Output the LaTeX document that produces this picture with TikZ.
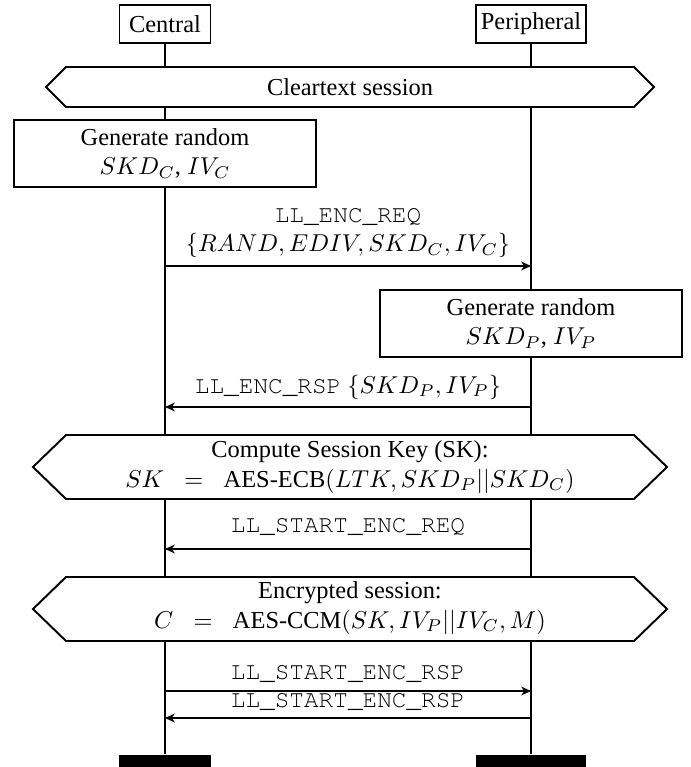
\documentclass[tikz,border=0pt]{standalone}
\usepackage[T1]{fontenc}
\usepackage{fontspec}
\setmainfont{Liberation Serif}
\setmonofont{Liberation Mono}
\usetikzlibrary{arrows.meta}
\newcommand{\msgname}[1]{{\fontencoding{T1}\fontfamily{pcr}\selectfont #1}}

\tikzset{
  inst/.style={draw, fill=white, minimum height=15.6pt, inner xsep=2pt},
  act/.style={draw, fill=white, align=center, minimum width=124.2pt, minimum height=24.2pt},
  bar/.style={fill=black, minimum height=4.9pt, inner sep=0pt},
  msg/.style={-{Stealth[length=4pt,width=3.6pt,inset=1.2pt]}},
  lbl/.style={align=center},
}

\begin{document}
\begin{tikzpicture}[x=0.41pt, y=-0.41pt, line width=0.8pt]
   \useasboundingbox (0,0) rectangle (691,767);
   % instances and lifelines
   \node[inst, minimum width=37.3pt] (cen) at (165,24) {Central};
   \node[inst, minimum width=45.1pt] (per) at (531,24) {Peripheral};
   \node[bar, minimum width=38.1pt] (cenend) at (165,761) {};
   \node[bar, minimum width=45.5pt] (perend) at (531,761) {};
   \draw (cen) -- (cenend);
   \draw (per) -- (perend);
   % cleartext
   \filldraw[fill=white] (66,67) -- (634,67) -- (654,87) -- (634,107) -- (66,107) -- (46,87) -- cycle;
   \node (clear) at (350,87) {Cleartext session};
   \node[act] (gencen) at (165,153.5) {Generate random\\ $SKD_C$, $IV_C$};
   % LL_ENC_REQ
   \coordinate (reqC) at (165,266);
   \coordinate (reqP) at (531,266);
   \draw[msg] (reqC) -- (reqP);
   \node[lbl] (reqlbl) at (348,233) {\msgname{LL\_ENC\_REQ}\\ $\{RAND, EDIV, SKD_C, IV_C\}$};
   \node[act] (genper) at (531,323.5) {Generate random\\ $SKD_P$, $IV_P$};
   % LL_ENC_RSP
   \coordinate (rspP) at (531,407);
   \coordinate (rspC) at (165,407);
   \draw[msg] (rspP) -- (rspC);
   \node (rsplbl) at (348,387) {\msgname{LL\_ENC\_RSP} $\{SKD_P, IV_P\}$};
   % session key
   \filldraw[fill=white] (66,435) -- (634,435) -- (667,467) -- (634,499) -- (66,499) -- (33,467) -- cycle;
   \node[lbl] (skey) at (350,467)
    {Compute Session Key (SK):\\ $SK\;\;=\;\;\mbox{AES-ECB}(LTK, SKD_P||SKD_C)$};
   % LL_START_ENC_REQ
   \coordinate (sreqP) at (531,549);
   \coordinate (sreqC) at (165,549);
   \draw[msg] (sreqP) -- (sreqC);
   \node (sreqlbl) at (348,527) {\msgname{LL\_START\_ENC\_REQ}};
   % encrypted
   \filldraw[fill=white] (66,577) -- (634,577) -- (667,609) -- (634,641) -- (66,641) -- (33,609) -- cycle;
   \node[lbl] (enc) at (350,608)
    {Encrypted session:\\ $C\;\;=\;\;\mbox{AES-CCM}(SK, IV_P||IV_C, M)$};
   % LL_START_ENC_RSP
   \coordinate (srspC) at (165,691);
   \coordinate (srspP) at (531,691);
   \draw[msg] (srspC) -- (srspP);
   \node (srsplbl) at (348,674) {\msgname{LL\_START\_ENC\_RSP}};
   \coordinate (srspP2) at (531,718);
   \coordinate (srspC2) at (165,718);
   \draw[msg] (srspP2) -- (srspC2);
   \node (srsplbl2) at (348,702) {\msgname{LL\_START\_ENC\_RSP}};
\end{tikzpicture}
\end{document}
